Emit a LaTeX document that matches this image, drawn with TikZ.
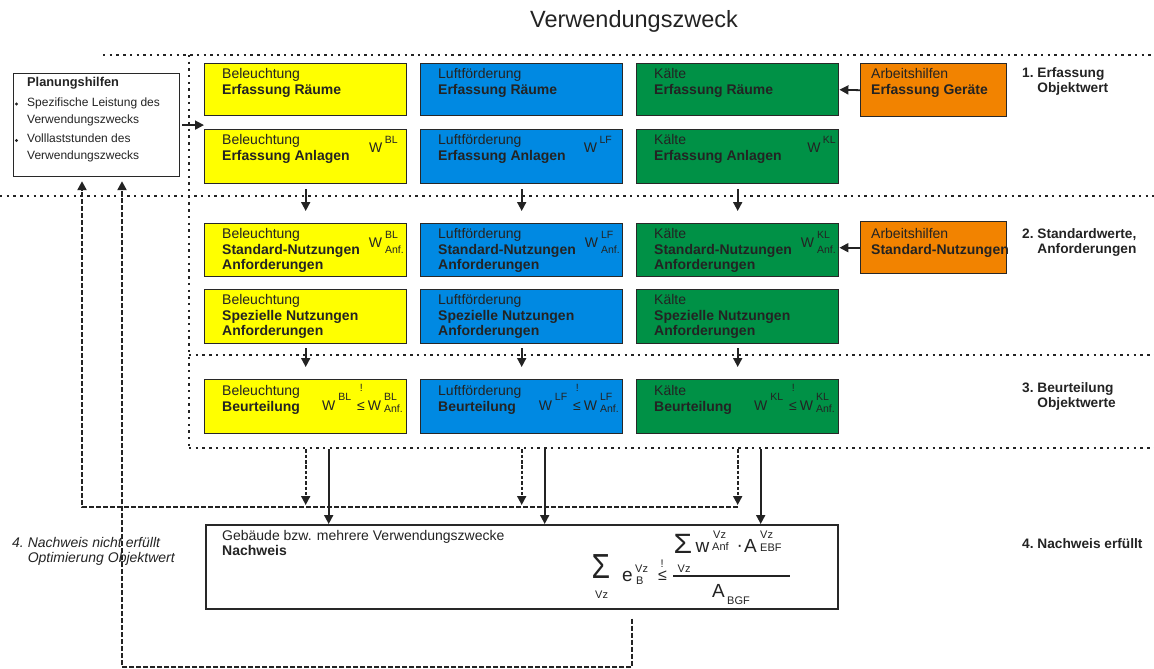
\documentclass[tikz,border=0pt]{standalone}
\usepackage{fontspec}
\usepackage{graphicx}
\setmainfont{Liberation Sans}
\usetikzlibrary{arrows.meta,calc}
\definecolor{cyel}{RGB}{255,255,0}
\definecolor{cblu}{RGB}{0,137,226}
\definecolor{cgrn}{RGB}{0,145,70}
\definecolor{corg}{RGB}{242,131,0}
\definecolor{cln}{RGB}{40,40,40}
\definecolor{ctx}{RGB}{35,35,35}
\newcommand{\ssz}{\fontsize{10.5}{10.5}\selectfont}
\begin{document}
\begin{tikzpicture}[x=1pt,y=-1pt,
  box/.style={draw=cln, line width=1.4pt, anchor=north west, inner sep=0pt, minimum width=202pt, minimum height=53pt},
  txt/.style={anchor=north west, align=left, inner sep=0pt, font=\fontsize{14}{15.7}\selectfont, text=ctx},
  wlab/.style={anchor=base east, inner sep=0pt, font=\fontsize{14}{15.7}\selectfont, text=ctx},
  rlab/.style={anchor=north west, align=left, inner sep=0pt, font=\fontsize{13.7}{15}\selectfont\bfseries, text=ctx},
  fm/.style={anchor=base west, inner sep=0pt, font=\fontsize{19}{19}\selectfont, text=ctx},
  fs/.style={anchor=base west, inner sep=0pt, font=\fontsize{11}{11}\selectfont, text=ctx},
  dotline/.style={line width=2.2pt, dash pattern=on 2.4pt off 4.3pt, draw=ctx},
  tip/.style={-{Triangle[length=9pt,width=9pt]}},
  arr/.style={line width=1.8pt, draw=ctx, tip},
  fbline/.style={line width=2.4pt, dash pattern=on 5pt off 2pt, draw=ctx},
  fbarr/.style={line width=1.8pt, dash pattern=on 3.5pt off 1.8pt, draw=ctx, tip},
]
\useasboundingbox (0,0) rectangle (1154,669);

% title
\node[anchor=base, inner sep=0pt, font=\fontsize{23.5}{28}\selectfont, text=ctx] (title) at (634,28) {Verwendungszweck};

% dotted separators
\draw[dotline] (103,55) -- (1154,55);
\draw[dotline] (189,55) -- (189,448);
\draw[dotline] (0,196) -- (1154,196);
\draw[dotline] (189,355) -- (1154,355);
\draw[dotline] (189,448) -- (1154,448);

% Planungshilfen
\node[draw=cln, line width=1.2pt, anchor=north west, minimum width=166pt, minimum height=103pt, inner sep=0pt] (pl) at (13,73) {};
\node[anchor=north west, align=left, inner sep=0pt, font=\fontsize{12}{17}\selectfont, text=ctx] (plt) at (27,77.5)
  {{\fontsize{12.8}{17}\selectfont\bfseries Planungshilfen}\\[3pt] Spezifische Leistung des\\ Verwendungszwecks\\[2pt] Volllaststunden des\\ Verwendungszwecks};
\fill[ctx] (16.5,104) circle (1.6);
\fill[ctx] (16.5,140.5) circle (1.6);

% Nachweis box
\node[draw=cln, line width=1.5pt, anchor=north west, minimum width=632pt, minimum height=84pt, inner sep=0pt] (nw) at (205,524) {};
\node[txt, font=\fontsize{14}{15}\selectfont] (nwt) at (222,530) {Gebäude bzw. mehrere Verwendungszwecke\\\textbf{Nachweis}};
% formula
\node[fm, font=\fontsize{30}{30}\selectfont] (f1) at (591.5,578) {\scalebox{1}[1.16]{Σ}};
\node[fs] (f2) at (595,598) {Vz};
\node[fm] (f3) at (622,581) {e};
\node[fs] (f4) at (635,572) {Vz};
\node[fs] (f5) at (636,584) {B};
\node[fm, font=\fontsize{16}{16}\selectfont] (f6) at (658,580) {≤};
\node[fs] (f7) at (660.5,567) {!};
\draw[ctx, line width=1.1pt] (673,576) -- (790,576);
\node[fm, font=\fontsize{30}{30}\selectfont] (f8) at (673.5,553) {\scalebox{1}[0.93]{Σ}};
\node[fs] (f9) at (677.5,572) {Vz};
\node[fm] (f10) at (695.5,552) {w};
\node[fs] (f11) at (713,538) {Vz};
\node[fs] (f12) at (712,550) {Anf};
\node[fm] (f13) at (736.5,551) {·};
\node[fm] (f14) at (744,552) {A};
\node[fs] (f15) at (760,538) {Vz};
\node[fs] (f16) at (760,551) {EBF};
\node[fm] (f17) at (712,597) {A};
\node[fs] (f18) at (727,604) {BGF};

\coordinate (fbA) at (82,507);
\coordinate (fbB) at (122,667);

% columns
\foreach \c/\x/\nm/\col/\ab/\o in {y/204/Beleuchtung/cyel/BL/8, b/420/Luftförderung/cblu/LF/10, g/636/Kälte/cgrn/KL/2}{
  \node[box, fill=\col, minimum height=52pt] (\c1) at (\x,63) {};
  \node[box, fill=\col, minimum height=54pt] (\c2) at (\x,129) {};
  \node[box, fill=\col, minimum height=53pt] (\c3) at (\x,223) {};
  \node[box, fill=\col, minimum height=54pt] (\c4) at (\x,289) {};
  \node[box, fill=\col, minimum height=54pt] (\c5) at (\x,379) {};
  \node[txt] (\c1t) at (\x+18,68) {\nm\\\textbf{Erfassung Räume}};
  \node[txt] (\c2t) at (\x+18,134) {\nm\\\textbf{Erfassung Anlagen}};
  \node[txt] (\c3t) at (\x+18,228) {\nm\\\textbf{Standard-Nutzungen}\\\textbf{Anforderungen}};
  \node[txt] (\c4t) at (\x+18,294) {\nm\\\textbf{Spezielle Nutzungen}\\\textbf{Anforderungen}};
  \node[txt] (\c5t) at (\x+18,385.5) {\nm\\\textbf{Beurteilung}};
  \node[wlab] (\c2w) at (\x+202-\o,152) {W\hspace{2.5pt}\raisebox{9pt}{\ssz \ab}};
  \node[wlab] (\c3w) at (\x+200,247) {W\hspace{3pt}\rlap{\raisebox{9pt}{\ssz \ab}}\raisebox{-6pt}{\ssz Anf.}};
  \node[wlab] (\c5w) at (\x+199,410) {W\hspace{3pt}\raisebox{10pt}{\ssz \ab}\hspace{6pt}\rlap{\hspace{2.6pt}\raisebox{19pt}{\ssz !}}≤\hspace{3pt}W\hspace{3pt}\rlap{\raisebox{10pt}{\ssz \ab}}\raisebox{-2pt}{\ssz Anf.}};
  \draw[arr, shorten <=5pt, shorten >=12pt] (\c2.south) -- (\c3.north);
  \draw[arr, shorten <=4pt, shorten >=12pt] (\c4.south) -- (\c5.north);
  \draw[fbarr, shorten <=15pt, shorten >=2pt] (\c5.south) -- (\c5.south |- fbA);
  \draw[arr, shorten <=15pt] ($(\c5.south)+(23,0)$) -- ($(\c5.south |- nw.north)+(23,0)$);
}

% Arbeitshilfen
\node[box, fill=corg, minimum width=146pt, minimum height=53pt] (o1) at (860,63) {};
\node[box, fill=corg, minimum width=146pt, minimum height=52pt] (o2) at (860,221) {};
\node[txt] (o1t) at (871,68) {Arbeitshilfen\\\textbf{Erfassung Geräte}};
\node[txt] (o2t) at (871,228) {Arbeitshilfen\\\textbf{Standard-Nutzungen}};
\draw[arr] (o1.west) -- (g1.east);
\draw[arr] (o2.west) -- (o2.west -| g3.east);

% Planungshilfen arrow
\draw[arr, shorten <=2pt] (pl.east) -- (pl.east -| y1.west);

% right labels
\node[rlab] (l1) at (1022,67) {1.~Erfassung\\\hphantom{1.~}Objektwert};
\node[rlab] (l2) at (1022,228) {2.~Standardwerte,\\\hphantom{2.~}Anforderungen};
\node[rlab] (l3) at (1022,382) {3.~Beurteilung\\\hphantom{3.~}Objektwerte};
\node[rlab] (l4) at (1022,538) {4.~Nachweis erfüllt};
\node[anchor=north west, align=left, inner sep=0pt, font=\fontsize{14}{15}\selectfont\itshape, text=ctx] (l5) at (12,537) {4.~Nachweis nicht erfüllt\\\hphantom{4.~}Optimierung Objektwert};

% feedback loops
\draw[fbline, tip, shorten >=4pt] (g5.south |- fbA) -- (fbA) -- (pl.south -| fbA);
\draw[fbline, tip, shorten <=9pt, shorten >=4pt] ($(nw.south)+(110,0)$) |- (fbB) -- (pl.south -| fbB);
\end{tikzpicture}
\end{document}
